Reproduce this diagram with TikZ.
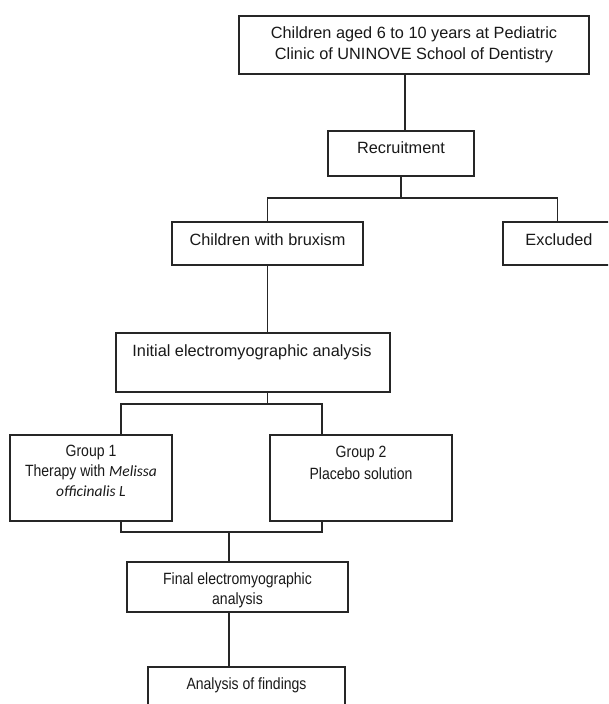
\documentclass[tikz,border=0pt]{standalone}
\usepackage{fontspec}
\setmainfont{Liberation Sans}
\newfontfamily\condfont[FakeStretch=0.86]{Liberation Sans}
\newfontfamily\calibfont{Carlito}
\newcommand{\itcal}[1]{{\calibfont\itshape\fontsize{15.5}{20}\selectfont #1}}
\begin{document}
\begin{tikzpicture}[x=1pt,y=-1pt,
  box/.style={draw=black!85,line width=1.1pt,inner sep=0pt,fill=white},
  txt/.style={anchor=base,align=center,inner sep=0pt,font=\fontsize{16.3}{20.5}\selectfont,text=black!90},
  small/.style={font=\condfont\fontsize{16.3}{20}\selectfont},
  ln/.style={draw=black!85,line width=1.1pt}]
\path[use as bounding box] (0,0) rectangle (608,704);
\clip (0,0) rectangle (608,704);
% boxes
\node[box,minimum width=350pt,minimum height=58pt] (top) at (414,45) {};
\node[box,minimum width=146pt,minimum height=45pt] (rec) at (401,153.5) {};
\node[box,minimum width=191pt,minimum height=43pt] (brux) at (267.5,243.5) {};
\node[box,minimum width=109pt,minimum height=43pt] (excl) at (557.5,243.5) {};
\node[box,minimum width=274pt,minimum height=59pt] (init) at (253,362.5) {};
\node[box,minimum width=162pt,minimum height=86pt] (g1) at (91,478) {};
\node[box,minimum width=182pt,minimum height=86pt] (g2) at (361,478) {};
\node[box,minimum width=221pt,minimum height=50pt] (fin) at (237.5,587) {};
\node[box,minimum width=197pt,minimum height=60pt] (anl) at (246.5,697) {};
% texts (base anchor = baseline of the last line)
\node[txt] (ttop) at (414,59) {Children aged 6 to 10 years at Pediatric\\Clinic of UNINOVE School of Dentistry};
\node[txt] (trec) at (401,153) {Recruitment};
\node[txt] (tbrux) at (267.5,245) {Children with bruxism};
\node[txt] (texcl) at (559,245) {Excluded};
\node[txt] (tinit) at (252,356) {Initial electromyographic analysis};
\node[txt,small] (tg1) at (91,496) {Group 1\\Therapy with \itcal{Melissa}\\\itcal{officinalis L}};
\node[txt,font=\condfont\fontsize{16.3}{22}\selectfont] (tg2) at (361,479) {Group 2\\Placebo solution};
\node[txt,small] (tfin) at (237.5,604) {Final electromyographic\\analysis};
\node[txt,small] (tanl) at (246.5,689) {Analysis of findings};
% junction coordinates
\coordinate (c1) at (405,0);
\coordinate (j1) at (401,198);
\coordinate (k1) at (121,404);
\coordinate (k2) at (322,404);
\coordinate (m1) at (121,532);
\coordinate (m2) at (322,532);
\coordinate (j3) at (229,532);
% connectors
\draw[ln] (top.south -| c1) -- (rec.north -| c1);
\draw[ln] (rec.south -| j1) -- (j1);
\draw[ln] (brux.north) |- (j1) -| (excl.north);
\draw[ln] (brux.south) -- (init.north -| brux.south);
\draw[ln] (init.south -| brux.south) -- (k1 -| brux.south);
\draw[ln] (g1.north -| k1) |- (k2) -- (g2.north -| k2);
\draw[ln] (g1.south -| m1) |- (m2) -- (g2.south -| m2);
\draw[ln] (j3) -- (fin.north -| j3);
\draw[ln] (fin.south -| j3) -- (anl.north -| j3);
\end{tikzpicture}
\end{document}
